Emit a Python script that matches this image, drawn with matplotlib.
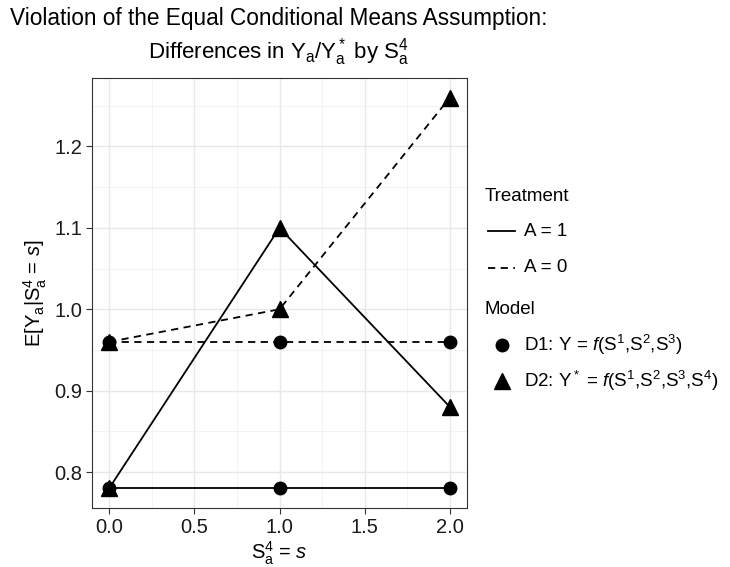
import numpy as np
import matplotlib
matplotlib.use('Agg')
import matplotlib.pyplot as plt
from matplotlib.lines import Line2D
from matplotlib.ticker import MultipleLocator, FormatStrFormatter

plt.rcParams['font.family'] = ['Liberation Sans', 'DejaVu Sans']
plt.rcParams['mathtext.fontset'] = 'custom'
plt.rcParams['mathtext.rm'] = 'Liberation Sans'
plt.rcParams['mathtext.it'] = 'Liberation Sans:italic'
plt.rcParams['mathtext.bf'] = 'Liberation Sans:bold'

# S^4_a values
s_vals = [0.0, 1.0, 2.0]
# D1 model: Y = f(S1,S2,S3)
d1_a1 = [0.78, 0.78, 0.78]
d1_a0 = [0.96, 0.96, 0.96]
# D2 model: Y* = f(S1,S2,S3,S4)
d2_a1 = [0.78, 1.10, 0.88]
d2_a0 = [0.96, 1.00, 1.26]

treat_labels = ['A = 1', 'A = 0']
model_labels = [r'D1: Y = $f$(S$^1$,S$^2$,S$^3$)',
                r'D2: Y$^*$ = $f$(S$^1$,S$^2$,S$^3$,S$^4$)']

dark = '#333333'
W, H = 730, 567

fig = plt.figure(figsize=(7.3, 5.67), dpi=100)
ax = fig.add_axes([92 / W, 1 - 508 / H, 375 / W, 430 / H])

lw = 1.3
dash = (4, 3)
ax.plot(s_vals, d1_a1, color='black', lw=lw, marker='o', ms=9, zorder=3)
ax.plot(s_vals, d1_a0, color='black', lw=lw, ls=(0, dash), marker='o', ms=9, zorder=3)
ax.plot(s_vals, d2_a1, color='black', lw=lw, marker='^', ms=11, zorder=3)
ax.plot(s_vals, d2_a0, color='black', lw=lw, ls=(0, dash), marker='^', ms=11, zorder=3)

ymin, ymax = 0.78, 1.26
pad = (ymax - ymin) * 0.05
ax.set_ylim(ymin - pad, ymax + pad)
ax.set_xlim(-0.1, 2.1)
ax.xaxis.set_major_locator(MultipleLocator(0.5))
ax.xaxis.set_minor_locator(MultipleLocator(0.25))
ax.yaxis.set_major_locator(MultipleLocator(0.1))
ax.yaxis.set_minor_locator(MultipleLocator(0.05))
ax.xaxis.set_major_formatter(FormatStrFormatter('%.1f'))
ax.yaxis.set_major_formatter(FormatStrFormatter('%.1f'))

ax.grid(which='major', color='#e8e8e8', lw=1.0, zorder=0)
ax.grid(which='minor', color='#eeeeee', lw=0.5, zorder=0)
ax.set_axisbelow(True)
for sp in ax.spines.values():
    sp.set_color(dark)
    sp.set_linewidth(0.8)
ax.tick_params(which='major', direction='out', length=4, width=0.8, color=dark,
               labelsize=14.5, labelcolor='#1a1a1a', pad=3)
ax.tick_params(which='minor', length=0)

ax.set_xlabel(r'S$^4_\mathrm{a}$ = $s$', fontsize=14.5, labelpad=2)
ax.set_ylabel(r'E[Y$_\mathrm{a}$|S$^4_\mathrm{a}$ = $s$]', fontsize=14.5, labelpad=4)

fig.text(10 / W, 1 - 19 / H, 'Violation of the Equal Conditional Means Assumption:',
         fontsize=16.3, ha='left', va='center')
fig.text(279 / W, 1 - 52 / H,
         r'Differences in Y$_\mathrm{a}$/Y$^*_\mathrm{a}$ by S$^4_\mathrm{a}$',
         fontsize=16, ha='center', va='center')

# legends drawn by hand in figure coordinates
lfs = 13.5
fig.text(485 / W, 1 - 197 / H, 'Treatment', fontsize=lfs, ha='left', va='center')
styles = ['-', (0, dash)]
for lab, st, yp in zip(treat_labels, styles, [231, 268]):
    fig.add_artist(Line2D([488 / W, 515 / W], [1 - yp / H] * 2, color='black',
                          lw=lw, ls=st, transform=fig.transFigure))
    fig.text(524 / W, 1 - yp / H, lab, fontsize=lfs, ha='left', va='center')

fig.text(485 / W, 1 - 310 / H, 'Model', fontsize=lfs, ha='left', va='center')
markers = [('o', 9), ('^', 11)]
for lab, (mk, ms), yp in zip(model_labels, markers, [345, 381]):
    fig.add_artist(Line2D([502 / W], [1 - yp / H], color='black', ls='none',
                          marker=mk, ms=ms, transform=fig.transFigure))
    fig.text(524 / W, 1 - yp / H, lab, fontsize=lfs, ha='left', va='center')

fig.savefig('out.png', dpi=100)
